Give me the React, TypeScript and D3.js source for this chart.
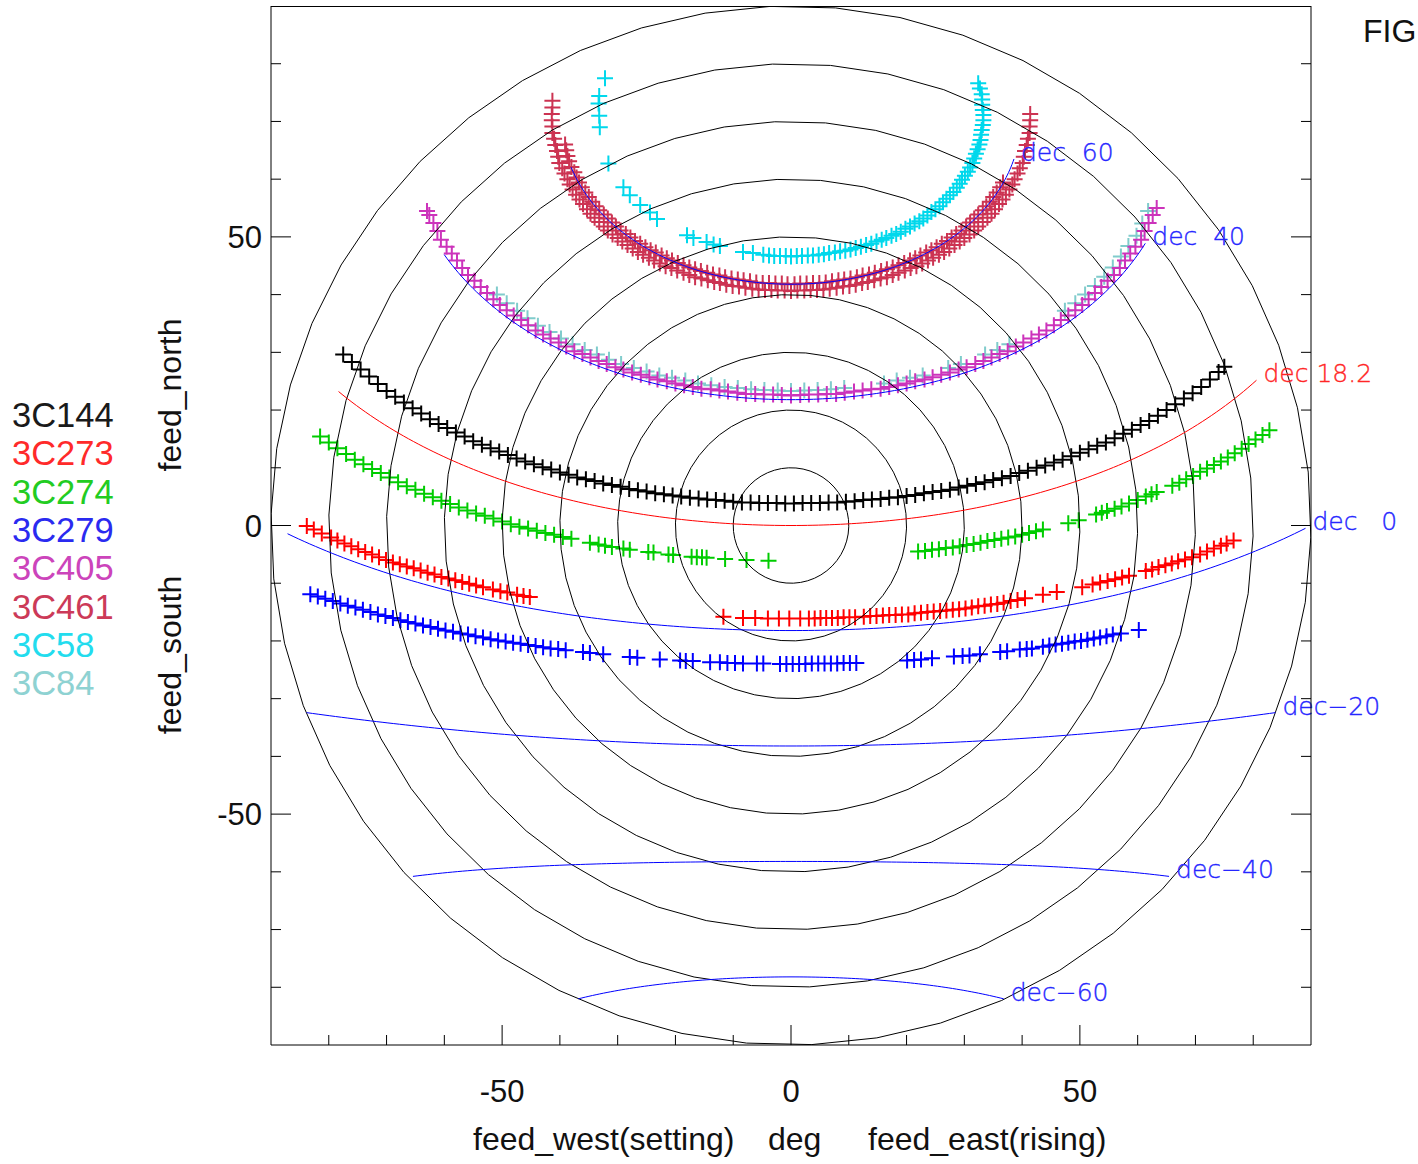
import React from "react";
import * as d3 from "d3";

const WIDTH = 1418;
const HEIGHT = 1164;

// observatory latitude and hour-angle span used for the declination graticule
const LATITUDE = 18.2;
const HA_EAST_LIMIT = -90;
const HA_WEST_LIMIT = 87;

const ZA_RINGS = [10, 20, 30, 40, 50, 60, 70, 80, 90];
const DEC_LINES = [60, 40, 18.2, 0, -20, -40, -60];
const DEC_LABELS = ["dec  60", "dec  40", "dec 18.2", "dec   0", "dec\u221220", "dec\u221240", "dec\u221260"];
const DEC_COLORS = ["#0000ff", "#0000ff", "#ff0000", "#0000ff", "#0000ff", "#0000ff", "#0000ff"];
const DEC_LABEL_COLORS = ["#2626ff", "#2626ff", "#ff2626", "#2626ff", "#2626ff", "#2626ff", "#2626ff"];

const AXIS_TICKS = [-80, -70, -60, -50, -40, -30, -20, -10, 0, 10, 20, 30, 40, 50, 60, 70, 80];
const MAJOR_TICKS = [-50, 0, 50];
const TICK_LABELS = ["-50", "0", "50"];

const SOURCES = ["3C144", "3C273", "3C274", "3C279", "3C405", "3C461", "3C58", "3C84"];
const SOURCE_COLORS = ["#000000", "#ff0000", "#00cc00", "#0000ff", "#cc33bb", "#cc3352", "#00d8ec", "#80cccc"];
const LEGEND_COLORS = ["#1a1a1a", "#ff2a2a", "#22cc22", "#2a2af0", "#cc44bb", "#cc3a58", "#22dcee", "#8ed2d2"];

const pts3C144: [number, number][] = [
  [-77.5, 29.6], [-76, 28.3], [-74.5, 27.0], [-73, 25.8], [-71.5, 24.5], [-70, 23.3], [-68.5, 22.3], [-67, 21.3],
  [-65.5, 20.3], [-64, 19.4], [-62.5, 18.4], [-61, 17.6], [-59.5, 16.9], [-58, 16.1], [-56.5, 15.4], [-55, 14.6],
  [-53.5, 14.0], [-52, 13.4], [-50.5, 12.8], [-49, 12.2], [-47.5, 11.6], [-46, 11.1], [-44.5, 10.6], [-43, 10.1],
  [-41.5, 9.7], [-40, 9.2], [-38.5, 8.8], [-37, 8.3], [-35.5, 8.0], [-34, 7.7], [-32.5, 7.3], [-31, 7.0],
  [-29.5, 6.7], [-28, 6.3], [-26.5, 6.1], [-25, 5.9], [-23.5, 5.6], [-22, 5.4], [-20.5, 5.2], [-19, 5.0],
  [-17.5, 4.8], [-16, 4.7], [-14.5, 4.5], [-13, 4.4], [-11.5, 4.3], [-10, 4.1], [-8.5, 4.0], [-7, 4.0],
  [-5.5, 3.9], [-4, 3.9], [-2.5, 3.9], [-1, 3.8], [0.5, 3.8], [2, 3.9], [3.5, 3.9], [5, 3.9],
  [6.5, 4.0], [8, 4.0], [9.5, 4.1], [11, 4.2], [12.5, 4.4], [14, 4.5], [15.5, 4.6], [17, 4.8],
  [18.5, 4.9], [20, 5.1], [21.5, 5.3], [23, 5.6], [24.5, 5.8], [26, 6.0], [27.5, 6.2], [29, 6.6],
  [30.5, 6.9], [32, 7.2], [33.5, 7.5], [35, 7.9], [36.5, 8.2], [38, 8.6], [39.5, 9.1], [41, 9.5],
  [42.5, 10.0], [44, 10.4], [45.5, 10.9], [47, 11.4], [48.5, 12.0], [50, 12.6], [51.5, 13.2], [53, 13.8],
  [54.5, 14.4], [56, 15.1], [57.5, 15.9], [59, 16.6], [60.5, 17.4], [62, 18.1], [63.5, 19.0], [65, 20.0],
  [66.5, 21.0], [68, 22.0], [69.5, 22.9], [71, 24.0], [72.5, 25.3], [74, 26.6], [75, 27.5],
];

const pts3C273: [number, number][] = [
  [-83.8, -0.1], [-82.6, -0.7], [-81.2, -1.4], [-79.6, -2.1], [-78.5, -2.6], [-77.3, -3.1], [-76.1, -3.6], [-74.9, -4.1],
  [-73.7, -4.6], [-72.5, -5.0], [-71.3, -5.5], [-70.1, -6.0], [-68.9, -6.4], [-67.7, -6.7], [-66.5, -7.1], [-65.3, -7.4],
  [-64.1, -7.8], [-62.9, -8.2], [-61.7, -8.5], [-60.5, -8.9], [-59.3, -9.2], [-58.1, -9.5], [-56.9, -9.8], [-55.7, -10.1],
  [-54.5, -10.4], [-53.3, -10.7], [-51.6, -11.1], [-50.3, -11.4], [-49.1, -11.6], [-47.4, -12.0], [-46.3, -12.2], [-45.2, -12.4],
  [-11.7, -15.8], [-8.3, -16.0], [-6.2, -16.0], [-4.0, -16.1], [-2.1, -16.1], [-0.3, -16.1], [1.6, -16.1], [3.1, -16.1],
  [4.1, -16.1], [5.1, -16.0], [6.1, -16.0], [7.1, -16.0], [8.1, -16.0], [9.1, -15.9], [10.1, -15.9], [11.1, -15.9],
  [12.6, -15.8], [13.7, -15.7], [14.8, -15.7], [15.9, -15.6], [17.0, -15.5], [18.1, -15.5], [19.2, -15.4], [20.3, -15.4],
  [21.4, -15.2], [22.5, -15.1], [23.6, -15.0], [24.7, -14.9], [25.8, -14.8], [26.9, -14.7], [28.0, -14.6], [29.1, -14.5],
  [30.2, -14.4], [31.3, -14.2], [32.4, -14.0], [33.5, -13.9], [34.6, -13.7], [35.7, -13.6], [36.8, -13.4], [38.0, -13.1],
  [39.2, -12.9], [40.5, -12.6], [43.6, -12.0], [46.0, -11.5], [50.4, -10.7], [52.2, -10.2], [53.5, -9.9], [54.8, -9.6],
  [56.1, -9.3], [57.3, -9.0], [58.5, -8.7], [61.4, -7.9], [62.5, -7.6], [63.6, -7.2], [64.8, -6.9], [65.9, -6.6],
  [67.0, -6.2], [68.2, -5.9], [69.4, -5.5], [70.8, -5.0], [72.0, -4.5], [73.2, -4.0], [74.4, -3.5], [75.4, -3.1],
  [76.6, -2.6],
];

const pts3C274: [number, number][] = [
  [-81.5, 15.4], [-80, 14.4], [-78.5, 13.4], [-77, 12.4], [-75.5, 11.4], [-74, 10.6], [-72.5, 9.8], [-71, 9.1],
  [-69.5, 8.3], [-68, 7.5], [-66.5, 6.8], [-65, 6.2], [-63.5, 5.5], [-62, 4.9], [-60.5, 4.3], [-59, 3.7],
  [-57.5, 3.1], [-56, 2.6], [-54.5, 2.1], [-53, 1.7], [-51.5, 1.2], [-50, 0.7], [-48.5, 0.2], [-47, -0.2],
  [-45.5, -0.5], [-44, -0.9], [-42.5, -1.3], [-41, -1.6], [-39.5, -2.0], [-38, -2.3],
  [-34.8, -3.0], [-33.3, -3.3], [-32.2, -3.5], [-31.0, -3.7], [-29.0, -4.0], [-27.9, -4.2], [-24.7, -4.6], [-23.8, -4.7],
  [-21.2, -5.0], [-20.4, -5.1], [-17.2, -5.4], [-16.3, -5.5], [-15.4, -5.5], [-14.6, -5.6], [-11.4, -5.8], [-7.7, -6.0],
  [-3.9, -6.1],
  [22.0, -4.5], [23.2, -4.4], [24.4, -4.2], [25.6, -4.1], [26.8, -3.9], [28.0, -3.8], [29.2, -3.6], [30.4, -3.4],
  [31.6, -3.2], [32.8, -3.0], [34.0, -2.7], [35.2, -2.5], [36.4, -2.3], [37.6, -2.1], [38.8, -1.9], [40.0, -1.6],
  [41.2, -1.3], [42.4, -1.0], [43.6, -0.7], [48.0, 0.4], [49.8, 0.9], [52.8, 1.9], [53.8, 2.2], [54.7, 2.5],
  [56.0, 2.9], [57.2, 3.3], [58.5, 3.8], [60.0, 4.4], [61.4, 5.0], [62.4, 5.4], [63.3, 5.8], [66.0, 6.9],
  [67.2, 7.4], [68.4, 8.0], [69.6, 8.6], [70.8, 9.3], [72.0, 9.9], [73.2, 10.5], [74.4, 11.1], [75.6, 11.8],
  [76.8, 12.5], [78.0, 13.3], [79.2, 14.1], [80.4, 14.9], [81.6, 15.7], [82.8, 16.5],
];

const pts3C279: [number, number][] = [
  [-83.2, -11.9], [-81.9, -12.3], [-80.6, -12.7], [-79.3, -13.1], [-78.0, -13.5], [-76.7, -13.9], [-75.4, -14.2], [-74.1, -14.6],
  [-72.8, -15.0], [-71.5, -15.4], [-70.2, -15.7], [-68.9, -16.0], [-67.6, -16.4], [-66.3, -16.7], [-65.0, -17.0], [-63.7, -17.3],
  [-62.4, -17.6], [-61.1, -17.9], [-59.8, -18.2], [-58.5, -18.4], [-57.2, -18.7], [-55.9, -18.9], [-54.6, -19.2], [-53.3, -19.4],
  [-52.0, -19.7], [-50.7, -19.9], [-49.4, -20.1], [-48.1, -20.3], [-46.8, -20.5], [-45.5, -20.7], [-44.2, -20.9], [-42.9, -21.1],
  [-41.6, -21.3], [-40.3, -21.4], [-39.0, -21.6], [-36.0, -21.9], [-34.8, -22.1], [-32.5, -22.3], [-27.9, -22.8], [-26.6, -22.9],
  [-22.7, -23.2], [-19.2, -23.4], [-18.2, -23.5], [-17.0, -23.5], [-14.0, -23.7], [-12.3, -23.7], [-11.0, -23.8], [-9.7, -23.8],
  [-8.3, -23.9], [-5.9, -23.9], [-4.8, -23.9],
  [-1.9, -24.0], [-0.8, -24.0], [0.3, -24.0], [1.4, -24.0], [2.5, -24.0], [3.6, -23.9], [4.7, -23.9], [5.8, -23.9],
  [6.9, -23.9], [8.0, -23.9], [9.1, -23.8], [10.2, -23.8], [11.3, -23.8],
  [20.1, -23.4], [21.3, -23.3], [22.5, -23.2], [24.4, -23.0], [28.2, -22.7], [29.7, -22.6], [30.9, -22.5], [32.7, -22.3],
  [36.2, -21.9], [37.4, -21.8], [39.6, -21.5], [40.8, -21.4], [41.7, -21.3], [43.6, -21.0], [44.7, -20.8], [45.8, -20.6],
  [46.9, -20.5], [48.0, -20.3], [49.1, -20.1], [50.2, -20.0], [51.3, -19.8], [52.4, -19.6], [53.5, -19.4], [54.6, -19.2],
  [55.7, -18.9], [57.1, -18.7], [60.2, -18.1],
];

const pts3C405: [number, number][] = [
  [-63.0, 54.5], [-62.6, 53.8], [-61.9, 52.4], [-61.2, 51.0], [-60.6, 49.5], [-59.6, 48.3], [-58.7, 47.1], [-57.8, 45.9],
  [-56.9, 44.6], [-55.9, 43.4], [-54.8, 42.4], [-53.7, 41.3], [-52.6, 40.3], [-51.5, 39.2], [-50.4, 38.2], [-49.2, 37.3],
  [-48.0, 36.4], [-46.7, 35.6], [-45.5, 34.7], [-44.2, 33.8], [-42.9, 33.1], [-41.6, 32.4], [-40.2, 31.7], [-38.9, 31.0],
  [-37.5, 30.2], [-36.1, 29.7], [-34.7, 29.1], [-33.3, 28.5], [-31.9, 28.0], [-30.4, 27.4], [-29.0, 27.0], [-27.5, 26.5],
  [-26.0, 26.1], [-24.5, 25.7], [-23.1, 25.3], [-21.5, 25.0], [-20.0, 24.6], [-18.5, 24.3], [-17.0, 24.0], [-15.5, 23.7],
  [-13.9, 23.6], [-12.4, 23.4], [-10.9, 23.2], [-9.3, 23.0], [-7.8, 22.8], [-6.2, 22.8], [-4.7, 22.7], [-3.1, 22.7],
  [-1.6, 22.6], [0, 22.5], [1.6, 22.6], [3.1, 22.7], [4.7, 22.7], [6.2, 22.8], [7.8, 22.8], [9.3, 23.0],
  [10.9, 23.2], [12.4, 23.4], [13.9, 23.6], [15.5, 23.7], [17.0, 24.0], [18.5, 24.3], [20.0, 24.6], [21.5, 25.0],
  [23.1, 25.3], [24.5, 25.7], [26.0, 26.1], [27.5, 26.5], [29.0, 27.0], [30.4, 27.4], [31.9, 28.0], [33.3, 28.5],
  [34.7, 29.1], [36.1, 29.7], [37.5, 30.2], [38.9, 31.0], [40.2, 31.7], [41.6, 32.4], [42.9, 33.1], [44.2, 33.8],
  [45.5, 34.7], [46.7, 35.6], [48.0, 36.4], [49.2, 37.3], [50.4, 38.2], [51.5, 39.2], [52.6, 40.3], [53.7, 41.3],
  [54.8, 42.4], [55.9, 43.4], [56.9, 44.6], [57.8, 45.9], [58.7, 47.1], [59.6, 48.3], [60.6, 49.5], [61.2, 51.0],
  [61.9, 52.4], [62.6, 53.8], [63.3, 55.0],
];

// 3C461, outer track
const pts3C461: [number, number][] = [
  [-41.3, 73.6], [-41.3, 72.4], [-41.4, 71.3], [-41.4, 70.2], [-41.3, 69.1], [-41.3, 68.0], [-41.0, 67.0], [-40.8, 65.9],
  [-40.5, 64.9], [-40.3, 63.9], [-40.1, 62.8], [-39.6, 61.9], [-39.2, 61.0], [-38.7, 60.0], [-38.3, 59.1], [-37.8, 58.2],
  [-37.2, 57.3], [-36.6, 56.5], [-36.0, 55.7], [-35.3, 54.8], [-34.7, 54.0], [-34.0, 53.3], [-33.2, 52.6], [-32.4, 51.8],
  [-31.7, 51.1], [-30.9, 50.4], [-30.0, 49.8], [-29.2, 49.2], [-28.3, 48.6], [-27.4, 48.0], [-26.5, 47.4], [-25.6, 46.9],
  [-24.6, 46.4], [-23.7, 45.9], [-22.7, 45.4], [-21.7, 44.9], [-20.7, 44.6], [-19.7, 44.2], [-18.6, 43.8], [-17.6, 43.4],
  [-16.6, 43.0], [-15.5, 42.8], [-14.4, 42.5], [-13.3, 42.2], [-12.3, 42.0], [-11.2, 41.7], [-10.1, 41.5], [-9.0, 41.4],
  [-7.9, 41.2], [-6.7, 41.0], [-5.6, 40.9], [-4.5, 40.8], [-3.4, 40.8], [-2.3, 40.7], [-1.1, 40.7], [0, 40.6],
  [1.1, 40.7], [2.3, 40.7], [3.4, 40.8], [4.5, 40.8], [5.6, 40.9], [6.7, 41.0], [7.9, 41.2], [9.0, 41.4],
  [10.1, 41.5], [11.2, 41.7], [12.3, 42.0], [13.3, 42.2], [14.4, 42.5], [15.5, 42.8], [16.6, 43.0], [17.6, 43.4],
  [18.6, 43.8], [19.7, 44.2], [20.7, 44.6], [21.7, 44.9], [22.7, 45.4], [23.7, 45.9], [24.6, 46.4], [25.6, 46.9],
  [26.5, 47.4], [27.4, 48.0], [28.3, 48.6], [29.2, 49.2], [30.0, 49.8], [30.9, 50.4], [31.7, 51.1], [32.4, 51.8],
  [33.2, 52.6], [34.0, 53.3], [34.7, 54.0], [35.3, 54.8], [36.0, 55.7], [36.6, 56.5], [37.2, 57.3], [37.8, 58.2],
  [38.3, 59.1], [38.7, 60.0], [39.2, 61.0], [39.6, 61.9], [40.1, 62.8], [40.3, 63.9], [40.5, 64.9], [40.8, 65.9],
  [41.0, 67.0], [41.3, 68.0], [41.3, 69.1], [41.4, 70.2], [41.4, 71.3],
];

// 3C461, inner track (the band is about two symbols thick)
const pts3C461inner: [number, number][] = [
  [-39.1, 66.0], [-38.9, 65.0], [-38.7, 64.0], [-38.4, 63.1], [-38.0, 62.1], [-37.5, 61.2], [-37.1, 60.3], [-36.7, 59.4],
  [-36.2, 58.6], [-35.6, 57.7], [-35.0, 56.9], [-34.4, 56.1], [-33.8, 55.3], [-33.2, 54.6], [-32.4, 53.9], [-31.7, 53.2],
  [-31.0, 52.5], [-30.3, 51.8], [-29.5, 51.1], [-28.6, 50.5], [-27.8, 49.9], [-27.0, 49.3], [-26.1, 48.8], [-25.2, 48.2],
  [-24.3, 47.7], [-23.4, 47.3], [-22.4, 46.8], [-21.5, 46.3], [-20.6, 45.9], [-19.6, 45.5], [-18.6, 45.1], [-17.6, 44.7],
  [-16.6, 44.4], [-15.6, 44.1], [-14.5, 43.8], [-13.5, 43.5], [-12.4, 43.3], [-11.4, 43.0], [-10.3, 42.8], [-9.2, 42.6],
  [-8.2, 42.5], [-7.1, 42.3], [-6.0, 42.1], [-4.9, 42.0], [-3.8, 42.0], [-2.7, 41.9], [-1.6, 41.9], [-0.6, 41.8],
  [0.6, 41.8], [1.6, 41.9], [2.7, 41.9], [3.8, 42.0], [4.9, 42.0], [6.0, 42.1], [7.1, 42.3], [8.2, 42.5],
  [9.2, 42.6], [10.3, 42.8], [11.4, 43.0], [12.4, 43.3], [13.5, 43.5], [14.5, 43.8], [15.6, 44.1], [16.6, 44.4],
  [17.6, 44.7], [18.6, 45.1], [19.6, 45.5], [20.6, 45.9], [21.5, 46.3], [22.4, 46.8], [23.4, 47.3], [24.3, 47.7],
  [25.2, 48.2], [26.1, 48.8], [27.0, 49.3], [27.8, 49.9], [28.6, 50.5], [29.5, 51.1], [30.3, 51.8], [31.0, 52.5],
  [31.7, 53.2], [32.4, 53.9], [33.2, 54.6], [33.8, 55.3], [34.4, 56.1], [35.0, 56.9], [35.6, 57.7], [36.2, 58.6],
  [36.7, 59.4],
];

const pts3C58: [number, number][] = [
  [-32.2, 77.5], [-33.2, 74.4], [-33.3, 73.1], [-33.2, 71.0], [-33.1, 69.0], [-31.6, 62.7], [-29.0, 58.6], [-27.9, 57.2],
  [-26.1, 55.5], [-24.4, 54.2], [-23.2, 53.1], [-18.0, 50.3], [-16.9, 49.8], [-14.6, 49.1], [-13.4, 48.7], [-12.3, 48.4],
  [-8.3, 47.4], [-6.6, 47.2], [-4.8, 46.9], [-3.8, 46.8], [-2.9, 46.7], [-1.9, 46.7], [-0.9, 46.7],
  [0, 46.6], [1.0, 46.7], [1.9, 46.7], [2.9, 46.8], [3.8, 46.8], [4.8, 46.9], [5.7, 47.0], [6.6, 47.2],
  [7.6, 47.3], [8.5, 47.5], [9.4, 47.6], [10.3, 47.8], [11.2, 48.1], [12.1, 48.3], [13.0, 48.6], [13.9, 48.8],
  [14.8, 49.2], [15.7, 49.5], [16.5, 49.8], [17.4, 50.2], [18.2, 50.5], [19.0, 50.9], [19.8, 51.4], [20.6, 51.8],
  [21.4, 52.3], [22.2, 52.7], [22.9, 53.2], [23.6, 53.7], [24.3, 54.3], [25.0, 54.8], [25.7, 55.3], [26.3, 56.0],
  [26.9, 56.6], [27.5, 57.2], [28.1, 57.8], [28.7, 58.5], [29.2, 59.2], [29.6, 59.9], [30.1, 60.6], [30.6, 61.3],
  [31.0, 62.0], [31.4, 62.8], [31.7, 63.6], [32.0, 64.4], [32.3, 65.2], [32.6, 66.0], [32.8, 66.8], [32.9, 67.7],
  [33.0, 68.5], [33.2, 69.4], [33.3, 70.2], [33.3, 71.1], [33.2, 72.0], [33.1, 72.9], [33.1, 73.8], [33.0, 74.7],
  [32.7, 75.7], [32.4, 76.6],
];

const pts3C84: [number, number][] = [
  [-50.9, 40.0], [-49.2, 38.5], [-47.4, 37.2], [-45.6, 35.9], [-43.8, 34.6], [-41.8, 33.5], [-39.8, 32.4], [-37.8, 31.4],
  [-35.7, 30.4], [-33.6, 29.6], [-31.5, 28.7], [-29.4, 28.0], [-27.2, 27.3], [-25.0, 26.7], [-22.8, 26.0], [-20.6, 25.6],
  [-18.3, 25.1], [-16.1, 24.6], [-13.8, 24.3], [-11.5, 24.0], [-9.2, 23.8], [-6.9, 23.6], [-4.6, 23.5], [-2.3, 23.4],
  [0, 23.3], [2.3, 23.4], [4.6, 23.5], [6.9, 23.6], [9.2, 23.8], [16.1, 24.6], [18.3, 25.1], [20.6, 25.6],
  [22.8, 26.0], [27.2, 27.3], [29.4, 28.0], [33.6, 29.6], [35.7, 30.4], [37.8, 31.4], [47.4, 37.2], [49.2, 38.5],
  [50.9, 40.0], [52.6, 41.5], [54.2, 43.1], [55.7, 44.7], [57.1, 46.6], [58.4, 48.4], [59.8, 50.2], [60.8, 52.3],
  [61.8, 54.5],
];

const SERIES_POINTS = [
  pts3C144, pts3C273, pts3C274, pts3C279, pts3C405,
  [...pts3C461inner, ...pts3C461], pts3C58, pts3C84,
];
// drawing order (teal 3C84 sits under 3C405)
const DRAW_ORDER = [0, 1, 2, 3, 7, 4, 5, 6];

const SANS = "'Liberation Sans', Arial, Helvetica, sans-serif";
const MARK = 8; // half size of the "+" symbol in px

function decCurve(dec: number): [number, number][] {
  const rad = Math.PI / 180;
  const phi = LATITUDE * rad;
  const d = dec * rad;
  const out: [number, number][] = [];
  d3.range(HA_EAST_LIMIT, HA_WEST_LIMIT + 0.001, 1).forEach((h) => {
    const ha = h * rad;
    const up = Math.sin(phi) * Math.sin(d) + Math.cos(phi) * Math.cos(d) * Math.cos(ha);
    const north = Math.cos(phi) * Math.sin(d) - Math.sin(phi) * Math.cos(d) * Math.cos(ha);
    const east = -Math.cos(d) * Math.sin(ha);
    const za = Math.acos(Math.max(-1, Math.min(1, up))) / rad;
    if (za >= 89.95) return;
    const norm = Math.hypot(east, north) || 1;
    out.push([(za * east) / norm, (za * north) / norm]);
  });
  return out;
}

export default function App() {
  const left = 271, right = 1311, top = 6, bottom = 1045;
  const x = d3.scaleLinear().domain([-90, 90]).range([left, right]);
  const y = d3.scaleLinear().domain([-90, 90]).range([bottom, top]);

  const line = d3
    .line<[number, number]>()
    .x((p) => x(p[0]))
    .y((p) => y(p[1]));

  const ringPath = (r: number) => {
    const pts: [number, number][] = d3
      .range(0, 361, 7.2)
      .map((a) => [r * Math.sin(((a + 2.3) * Math.PI) / 180), -r * Math.cos(((a + 2.3) * Math.PI) / 180)] as [number, number]);
    return line(pts) + "Z";
  };

  const markerPath = (pts: [number, number][]) =>
    pts
      .map(([a, b]) => {
        const px = x(a), py = y(b);
        return `M${(px - MARK).toFixed(1)},${py.toFixed(1)}h${2 * MARK}M${px.toFixed(1)},${(py - MARK).toFixed(1)}v${2 * MARK}`;
      })
      .join("");

  const decData = DEC_LINES.map((d) => decCurve(d));

  return (
    <svg
      width={WIDTH}
      height={HEIGHT}
      style={{ position: "absolute", left: 0, top: 0, background: "#fff" }}
      xmlns="http://www.w3.org/2000/svg"
    >
      <defs>
        <clipPath id="plotClip">
          <rect x={left} y={top} width={right - left} height={bottom - top} />
        </clipPath>
      </defs>
      <rect x={0} y={0} width={WIDTH} height={HEIGHT} fill="#fff" />

      <g clipPath="url(#plotClip)">
        {DRAW_ORDER.map((i) => (
          <path key={SOURCES[i]} d={markerPath(SERIES_POINTS[i])} stroke={SOURCE_COLORS[i]} strokeWidth={2} fill="none" />
        ))}
        {ZA_RINGS.map((r) => (
          <path key={r} d={ringPath(r)} fill="none" stroke="#000" strokeWidth={1} />
        ))}
        {decData.map((pts, i) => (
          <path key={DEC_LINES[i]} d={line(pts) || ""} fill="none" stroke={DEC_COLORS[i]} strokeWidth={1} />
        ))}
      </g>

      {decData.map((pts, i) => {
        const end = pts[0];
        return (
          <text
            key={DEC_LABELS[i]}
            x={x(end[0]) + 7}
            y={y(end[1]) + 2}
            fill={DEC_LABEL_COLORS[i]}
            stroke={DEC_LABEL_COLORS[i]}
            strokeWidth={0.35}
            fontFamily="'DejaVu Sans', sans-serif"
            fontSize={25}
            fontWeight={300}
            style={{ whiteSpace: "pre" }}
          >
            {DEC_LABELS[i]}
          </text>
        );
      })}

      {/* frame */}
      <g stroke="#000" strokeWidth={1} fill="none">
        <line x1={left} y1={top + 0.5} x2={right} y2={top + 0.5} />
        <line x1={left} y1={bottom} x2={right} y2={bottom} />
        <line x1={left} y1={top} x2={left} y2={bottom} />
        <line x1={right} y1={top} x2={right} y2={bottom} />
      </g>

      {/* ticks */}
      <g stroke="#000" strokeWidth={1}>
        {AXIS_TICKS.map((t) => {
          const len = MAJOR_TICKS.includes(t) ? 20 : 10;
          return (
            <g key={t}>
              <line x1={x(t)} y1={bottom} x2={x(t)} y2={bottom - len} />
              <line x1={left} y1={y(t)} x2={left + len} y2={y(t)} />
              <line x1={right} y1={y(t)} x2={right - len} y2={y(t)} />
            </g>
          );
        })}
      </g>

      {/* tick labels */}
      <g fontFamily={SANS} fontSize={31} fill="#111">
        {MAJOR_TICKS.map((t, i) => (
          <text key={"x" + t} x={x(t)} y={1102} textAnchor="middle">
            {TICK_LABELS[i]}
          </text>
        ))}
        {MAJOR_TICKS.map((t, i) => (
          <text key={"y" + t} x={262} y={y(t) + 11} textAnchor="end">
            {TICK_LABELS[i]}
          </text>
        ))}
      </g>

      {/* axis titles */}
      <g fontFamily={SANS} fontSize={32} fill="#111">
        <text x={473} y={1150}>feed_west(setting)</text>
        <text x={768} y={1150}>deg</text>
        <text x={868} y={1150}>feed_east(rising)</text>
        <text transform="translate(181,395) rotate(-90)" textAnchor="middle">feed_north</text>
        <text transform="translate(181,655) rotate(-90)" textAnchor="middle">feed_south</text>
        <text x={1363} y={42}>FIG</text>
      </g>

      {/* legend */}
      <g fontFamily={SANS} fontSize={34.5}>
        {SOURCES.map((s, i) => (
          <text key={s} x={12} y={427 + i * 38.3} fill={LEGEND_COLORS[i]}>
            {s}
          </text>
        ))}
      </g>
    </svg>
  );
}
